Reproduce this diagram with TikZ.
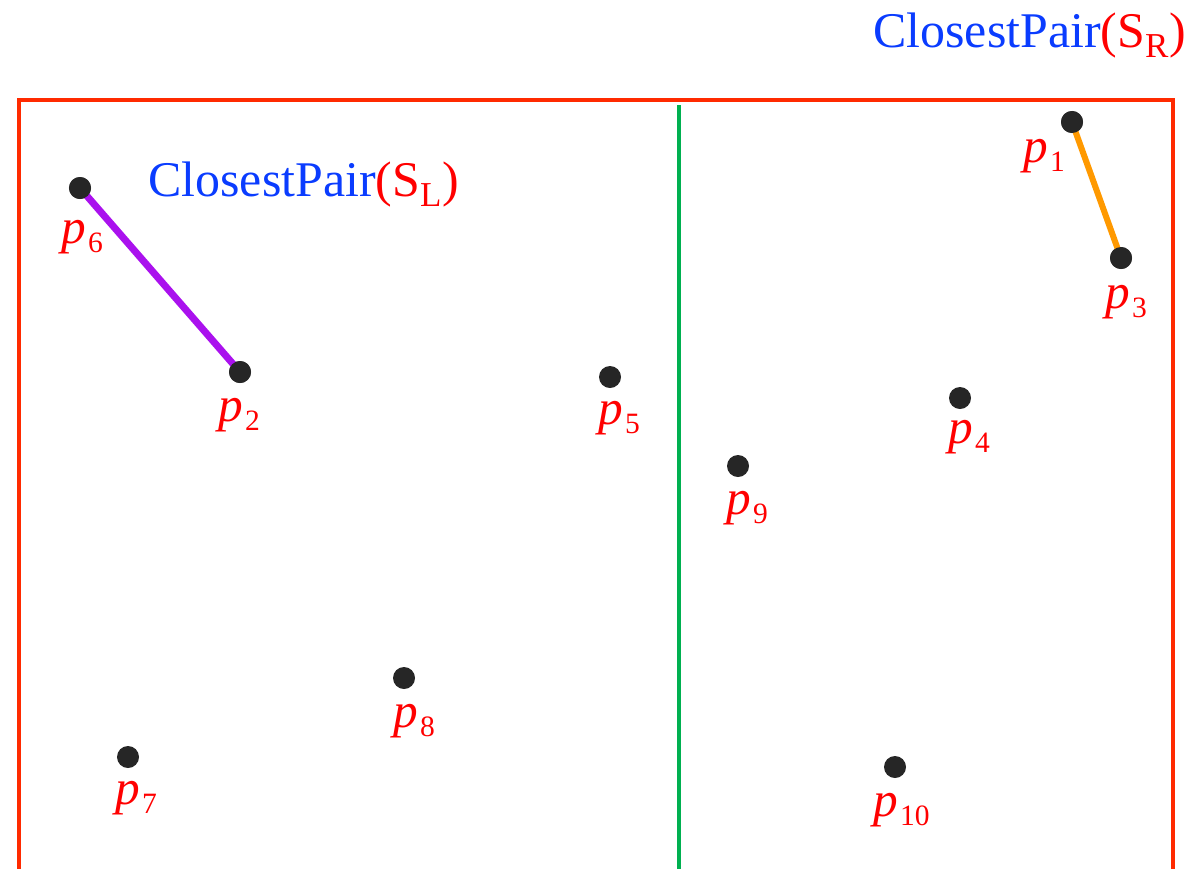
\documentclass[tikz,border=0pt]{standalone}
\usepackage{fontspec}
\setmainfont{Liberation Serif}
\definecolor{frame}{HTML}{FF2A00}
\definecolor{divider}{HTML}{00B050}
\definecolor{dot}{HTML}{262626}
\definecolor{lab}{HTML}{FF0000}
\definecolor{titleblue}{HTML}{0A3CFF}
\definecolor{pairL}{HTML}{AA11EE}
\definecolor{pairR}{HTML}{FF9900}
\newcommand\ptname[1]{{\itshape p}\kern1.5pt\raisebox{-6.5pt}{\fontsize{21}{22}\selectfont #1}}
\tikzset{
  pt/.style={circle,fill=dot,inner sep=0pt,minimum size=0.55cm},
  plab/.style={text=lab,inner sep=0pt,anchor=base west,font=\fontsize{35}{40}\selectfont},
  ttl/.style={inner sep=0pt,anchor=base west,font=\fontsize{35.5}{40}\selectfont},
}
\begin{document}
\begin{tikzpicture}[x=0.025cm,y=-0.025cm]
\useasboundingbox (0,0) rectangle (1201,868);
% frame
\coordinate (fbl) at (19,880);
\coordinate (ftl) at (19,100);
\coordinate (ftr) at (1173,100);
\coordinate (fbr) at (1173,880);
\draw[frame,line width=3pt] (fbl) -- (ftl) -- (ftr) -- (fbr);
\coordinate (gt) at (679,105);
\coordinate (gb) at (679,880);
\draw[divider,line width=2.85pt] (gt) -- (gb);
% points
\node[pt] (p1) at (1072,122) {};
\node[pt] (p3) at (1121,258) {};
\node[pt] (p6) at (80,188) {};
\node[pt] (p2) at (240,372) {};
\node[pt] (p5) at (610,377) {};
\node[pt] (p4) at (960,398) {};
\node[pt] (p9) at (738,466) {};
\node[pt] (p8) at (404,678) {};
\node[pt] (p7) at (128,757) {};
\node[pt] (p10) at (895,767) {};
% pairs
\draw[pairL,line width=5pt] (p6.center) -- (p2.center);
\draw[pairR,line width=4.3pt] (p1.center) -- (p3.center);
\node[pt] at (p6) {};
\node[pt] at (p2) {};
\node[pt] at (p1) {};
\node[pt] at (p3) {};
% labels
\node[plab] (l1) at (1023,162) {\ptname{1}};
\node[plab] (l3) at (1105,308) {\ptname{3}};
\node[plab] (l6) at (61,243) {\ptname{6}};
\node[plab] (l2) at (218,421) {\ptname{2}};
\node[plab] (l5) at (598,424) {\ptname{5}};
\node[plab] (l4) at (948,443) {\ptname{4}};
\node[plab] (l9) at (726,514) {\ptname{9}};
\node[plab] (l8) at (393,727) {\ptname{8}};
\node[plab] (l7) at (115,804) {\ptname{7}};
\node[plab] (l10) at (873,816) {\ptname{10}};
% titles
\node[ttl] (tl) at (148,196) {\textcolor{titleblue}{ClosestPair}\textcolor{lab}{(S\textsubscript{L})}};
\node[ttl] (tr) at (873,47) {\textcolor{titleblue}{ClosestPair}\textcolor{lab}{(S\textsubscript{R})}};
\end{tikzpicture}
\end{document}
